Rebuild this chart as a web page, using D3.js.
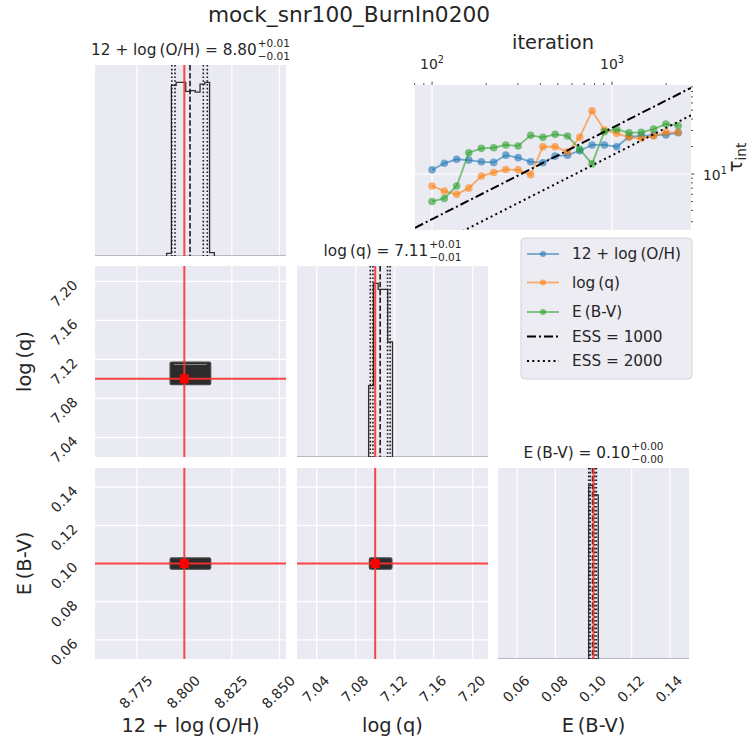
<!DOCTYPE html>
<html>
<head>
<meta charset="utf-8">
<script src="https://cdn.jsdelivr.net/npm/d3@7"></script>
<style>
  body { margin: 0; background: #fff; }
  svg { display: block; font-family: 'DejaVu Sans', sans-serif; }
  text { fill: #262626; }
  .tick-label { font-size: 13.9px; }
  .axis-label { font-size: 19.4px; }
  .hist-title { font-size: 15.3px; }
  .hist-script { font-size: 10.5px; }
  .legend-text { font-size: 15.3px; }
</style>
</head>
<body>
<svg id="corner-svg" width="750" height="744"></svg>
<script>
// ---------- data ----------
const figTitle = 'mock_snr100_BurnIn0200';
const paramLabels = ['12 + log\u2009(O/H)', 'log\u2009(q)', 'E\u2009(B-V)'];
const truths = [8.80, 7.10, 0.10];
const axisRanges = [[8.753, 8.8535], [7.0198, 7.2157], [0.05, 0.15]];
const tickValues = [
  [8.775, 8.800, 8.825, 8.850],
  [7.04, 7.08, 7.12, 7.16, 7.20],
  [0.06, 0.08, 0.10, 0.12, 0.14],
];
const tickFormats = ['.3f', '.2f', '.2f'];

// quantiles at 2.5, 16, 50, 84, 97.5 %
const quantilesOH = [8.7934, 8.7951, 8.8030, 8.8100, 8.8121];
const quantilesLogQ = [7.0950, 7.0977, 7.1051, 7.1127, 7.1153];
const quantilesEBV = [0.0975, 0.0983, 0.0995, 0.1007, 0.1015];

// 40-bin histogram counts over each axis range
const histOH = [0, 0, 0, 0, 0, 0, 0, 0, 0, 0, 0, 0, 0, 0, 0,
  16, 1022, 1040, 1040, 986, 990, 982, 1030, 1040, 20,
  0, 0, 0, 0, 0, 0, 0, 0, 0, 0, 0, 0, 0, 0, 0];
const histLogQ = [0, 0, 0, 0, 0, 0, 0, 0, 0, 0, 0, 0, 0, 0, 0,
  430, 1046, 1010, 1010, 693, 0,
  0, 0, 0, 0, 0, 0, 0, 0, 0, 0, 0, 0, 0, 0, 0, 0, 0, 0, 0];
const histEBV = [0, 0, 0, 0, 0, 0, 0, 0, 0, 0, 0, 0, 0, 0, 0, 0, 0, 0, 0,
  1050, 992,
  0, 0, 0, 0, 0, 0, 0, 0, 0, 0, 0, 0, 0, 0, 0, 0, 0, 0, 0];

// extent of the posterior samples (drawn as the dense blob in 2D panels)
const sampleExtents = [[8.7925, 8.8139], [7.0940, 7.1172], [0.0970, 0.1029]];

// autocorrelation time vs iteration
const iterations = [100, 117, 137, 160, 188, 220, 257, 301, 353, 413, 483,
  566, 662, 775, 907, 1062, 1243, 1455, 1703, 1994, 2334];
const tauOH = [11.1, 13.1, 14.5, 14.2, 13.6, 13.4, 16.1, 15.1, 13.6, 13.3, 15.7,
  16.1, 18.0, 20.8, 20.8, 19.9, 25.6, 26.1, 26.7, 26.8, 28.3];
const tauLogQ = [7.4, 6.5, 6.0, 7.0, 9.5, 10.4, 11.2, 11.1, 9.8, 19.9, 19.9,
  17.5, 25.2, 49.3, 30.3, 27.9, 25.2, 24.6, 26.0, 28.6, 28.6];
const tauEBV = [5.0, 5.4, 7.4, 17.1, 19.1, 19.4, 20.8, 20.3, 26.5, 25.2, 27.2,
  26.1, 18.6, 12.9, 29.1, 30.9, 28.3, 28.6, 31.1, 35.3, 33.8];
const seriesColors = ['#1f77b4', '#ff7f0e', '#2ca02c'];
const essLevels = [1000, 2000];
const essLabels = ['ESS = 1000', 'ESS = 2000'];
const nWalkers = 32;
const tauXDomain = [80.4, 2748];
const tauYDomain = [2.436, 94.4];
const tauMajorX = [100, 1000];
const tauMinorX = [80, 90, 200, 300, 400, 500, 600, 700, 800, 900, 2000];
const tauMajorY = [10];
const tauMinorY = [3, 4, 5, 6, 7, 8, 9, 20, 30, 40, 50, 60, 70, 80, 90];

const quantiles = [quantilesOH, quantilesLogQ, quantilesEBV];
const hists = [histOH, histLogQ, histEBV];
const taus = [tauOH, tauLogQ, tauEBV];

// ---------- layout ----------
const colX = [95, 297, 498];
const rowY = [65, 266, 468];
const panelSize = 191;
const bgColor = '#EAEAF2';
const truthColor = '#ff3030';

const svg = d3.select('#corner-svg');

/**
 * Horizontal scale of a parameter column
 * @param {number} i parameter index
 * @returns {*} linear scale
 */
function xScaleFor(i) {
  return d3.scaleLinear().domain(axisRanges[i]).range([colX[i], colX[i] + panelSize]);
}

/**
 * Vertical scale of a parameter row
 * @param {number} j parameter index
 * @returns {*} linear scale
 */
function yScaleFor(j) {
  return d3.scaleLinear().domain(axisRanges[j]).range([rowY[j] + panelSize, rowY[j]]);
}

/**
 * Adds the background and a clip path for a panel
 */
function addPanel(id, x, y, w, h) {
  svg.append('clipPath').attr('id', id)
    .append('rect').attr('x', x).attr('y', y).attr('width', w).attr('height', h);
  svg.append('rect').attr('x', x).attr('y', y).attr('width', w).attr('height', h)
    .attr('fill', bgColor);
  return svg.append('g').attr('clip-path', `url(#${id})`);
}

/**
 * Adds a title with super/subscript errors above a histogram
 */
function addHistTitle(i) {
  const q = quantiles[i];
  const med = q[2];
  const g = svg.append('g');
  const main = g.append('text').attr('class', 'hist-title')
    .text(`${paramLabels[i]} = ${med.toFixed(2)}`);
  const w = main.node().getComputedTextLength() + 1;
  const sup = g.append('text').attr('class', 'hist-script').attr('x', w).attr('y', -8.5)
    .text(`+${(q[3] - med).toFixed(2)}`);
  const sub = g.append('text').attr('class', 'hist-script').attr('x', w).attr('y', 4.5)
    .text(`\u2212${(med - q[1]).toFixed(2)}`);
  const total = w + Math.max(sup.node().getComputedTextLength(), sub.node().getComputedTextLength());
  g.attr('transform', `translate(${colX[i] + panelSize / 2 - total / 2},${rowY[i] - 10})`);
}

/**
 * Draws a 1D marginal histogram on the diagonal
 */
function drawHist(i) {
  const x = xScaleFor(i);
  const counts = hists[i];
  const y = d3.scaleLinear().domain([0, 1.1 * d3.max(counts)])
    .range([rowY[i] + panelSize, rowY[i]]);
  const g = addPanel(`clip-h${i}`, colX[i], rowY[i], panelSize, panelSize);

  tickValues[i].forEach((t) => {
    g.append('line').attr('x1', x(t)).attr('x2', x(t))
      .attr('y1', rowY[i]).attr('y2', rowY[i] + panelSize)
      .attr('stroke', '#fff').attr('stroke-width', 1.2);
  });

  // empty bins leave only the (half clipped) zero line
  g.append('line').attr('x1', colX[i]).attr('x2', colX[i] + panelSize)
    .attr('y1', y(0)).attr('y2', y(0))
    .attr('stroke', '#b8b8be').attr('stroke-width', 2);

  const edges = d3.range(counts.length + 1)
    .map((k) => axisRanges[i][0] + (k * (axisRanges[i][1] - axisRanges[i][0])) / counts.length);
  const filled = d3.range(counts.length).filter((k) => counts[k] > 0);
  const first = d3.min(filled);
  const last = d3.max(filled);
  const pts = [[edges[first], 0]];
  d3.range(first, last + 1).forEach((k) => {
    pts.push([edges[k], counts[k]], [edges[k + 1], counts[k]]);
  });
  pts.push([edges[last + 1], 0]);
  g.append('path')
    .attr('d', d3.line().x((d) => x(d[0])).y((d) => y(d[1]))(pts))
    .attr('fill', 'none').attr('stroke', '#2f2f2f').attr('stroke-width', 1.3);

  quantiles[i].forEach((q, k) => {
    g.append('line').attr('x1', x(q)).attr('x2', x(q))
      .attr('y1', rowY[i]).attr('y2', rowY[i] + panelSize)
      .attr('stroke', '#1a1a1a').attr('stroke-width', 1.6)
      .attr('stroke-dasharray', k === 2 ? '5.5,2.4' : '1.6,2.2');
  });

  g.append('line').attr('x1', x(truths[i])).attr('x2', x(truths[i]))
    .attr('y1', rowY[i]).attr('y2', rowY[i] + panelSize)
    .attr('stroke', truthColor).attr('stroke-width', 2).attr('opacity', 0.9);

  addHistTitle(i);
}

/**
 * Draws a 2D panel (param i on x, param j on y)
 */
function drawScatter(i, j) {
  const x = xScaleFor(i);
  const y = yScaleFor(j);
  const g = addPanel(`clip-${i}${j}`, colX[i], rowY[j], panelSize, panelSize);

  tickValues[i].forEach((t) => {
    g.append('line').attr('x1', x(t)).attr('x2', x(t))
      .attr('y1', rowY[j]).attr('y2', rowY[j] + panelSize)
      .attr('stroke', '#fff').attr('stroke-width', 1.2);
  });
  tickValues[j].forEach((t) => {
    g.append('line').attr('y1', y(t)).attr('y2', y(t))
      .attr('x1', colX[i]).attr('x2', colX[i] + panelSize)
      .attr('stroke', '#fff').attr('stroke-width', 1.2);
  });

  const bx = x(sampleExtents[i][0]);
  const bw = x(sampleExtents[i][1]) - bx;
  const by = y(sampleExtents[j][1]);
  const bh = y(sampleExtents[j][0]) - by;
  g.append('rect').attr('x', bx).attr('y', by).attr('width', bw).attr('height', bh)
    .attr('rx', 1.5).attr('fill', '#2b2b2b').attr('stroke', '#4a4a4a').attr('stroke-width', 1.2);
  if (bh > 14) {
    g.append('line').attr('x1', bx + 4).attr('x2', bx + bw - 4)
      .attr('y1', by + 2.5).attr('y2', by + 2.5)
      .attr('stroke', '#8a8a8a').attr('stroke-width', 1);
  }

  g.append('line').attr('x1', x(truths[i])).attr('x2', x(truths[i]))
    .attr('y1', rowY[j]).attr('y2', rowY[j] + panelSize)
    .attr('stroke', truthColor).attr('stroke-width', 2).attr('opacity', 0.9);
  g.append('line').attr('y1', y(truths[j])).attr('y2', y(truths[j]))
    .attr('x1', colX[i]).attr('x2', colX[i] + panelSize)
    .attr('stroke', truthColor).attr('stroke-width', 2).attr('opacity', 0.9);
  g.append('rect').attr('x', x(truths[i]) - 4.5).attr('y', y(truths[j]) - 4.5)
    .attr('width', 9).attr('height', 9).attr('fill', '#ff0000');
}

/**
 * Rotated tick labels under a bottom-row panel
 */
function addXTickLabels(i) {
  const x = xScaleFor(i);
  const top = rowY[2] + panelSize + 14;
  tickValues[i].forEach((t) => {
    const label = svg.append('text').attr('class', 'tick-label')
      .attr('text-anchor', 'middle').attr('dominant-baseline', 'central')
      .text(d3.format(tickFormats[i])(t));
    const half = ((label.node().getComputedTextLength() + 13.9) * Math.SQRT1_2) / 2;
    label.attr('transform', `translate(${x(t) - 1},${top + half}) rotate(-45)`);
  });
  svg.append('text').attr('class', 'axis-label').attr('text-anchor', 'middle')
    .attr('x', colX[i] + panelSize / 2).attr('y', 732).text(paramLabels[i]);
}

/**
 * Rotated tick labels left of a first-column panel
 */
function addYTickLabels(j) {
  const y = yScaleFor(j);
  const right = colX[0] - 15;
  tickValues[j].forEach((t) => {
    const label = svg.append('text').attr('class', 'tick-label')
      .attr('text-anchor', 'middle').attr('dominant-baseline', 'central')
      .text(d3.format(tickFormats[j])(t));
    const half = ((label.node().getComputedTextLength() + 13.9) * Math.SQRT1_2) / 2;
    label.attr('transform', `translate(${right - half},${y(t) + 12}) rotate(-45)`);
  });
  svg.append('text').attr('class', 'axis-label').attr('text-anchor', 'middle')
    .attr('transform', `translate(31,${rowY[j] + panelSize / 2}) rotate(-90)`)
    .text(paramLabels[j]);
}

/**
 * Draws the autocorrelation-time panel in the upper right
 */
function drawTauPanel() {
  const left = 415, right = 691, top = 85, bottom = 230;
  const x = d3.scaleLog().domain(tauXDomain).range([left, right]);
  const y = d3.scaleLog().domain(tauYDomain).range([bottom, top]);
  const g = addPanel('clip-tau', left, top, right - left, bottom - top);

  tauMajorX.forEach((t) => {
    g.append('line').attr('x1', x(t)).attr('x2', x(t)).attr('y1', top).attr('y2', bottom)
      .attr('stroke', '#fff').attr('stroke-width', 1.2);
  });
  tauMajorY.forEach((t) => {
    g.append('line').attr('y1', y(t)).attr('y2', y(t)).attr('x1', left).attr('x2', right)
      .attr('stroke', '#fff').attr('stroke-width', 1.2);
  });

  taus.forEach((series, s) => {
    const pts = iterations.map((n, k) => [n, series[k]]);
    g.append('path')
      .attr('d', d3.line().x((d) => x(d[0])).y((d) => y(d[1]))(pts))
      .attr('fill', 'none').attr('stroke', seriesColors[s])
      .attr('stroke-width', 1.8).attr('opacity', 0.6);
    g.append('g').selectAll('circle').data(pts).enter().append('circle')
      .attr('cx', (d) => x(d[0])).attr('cy', (d) => y(d[1])).attr('r', 3.8)
      .attr('fill', seriesColors[s]).attr('opacity', 0.6);
  });

  essLevels.forEach((ess, k) => {
    const ends = tauXDomain.map((n) => [n, (n * nWalkers) / ess]);
    g.append('path')
      .attr('d', d3.line().x((d) => x(d[0])).y((d) => y(d[1]))(ends))
      .attr('fill', 'none').attr('stroke', '#000').attr('stroke-width', 2)
      .attr('stroke-dasharray', k === 0 ? '9,3,2,3' : '2,3.3');
  });

  // ticks on top and right
  const tickG = svg.append('g').attr('stroke', '#262626').attr('stroke-width', 0.8);
  tauMajorX.concat(tauMinorX).forEach((t) => {
    const len = tauMajorX.includes(t) ? 3.5 : 2;
    tickG.append('line').attr('x1', x(t)).attr('x2', x(t)).attr('y1', top).attr('y2', top - len);
  });
  tauMajorY.concat(tauMinorY).forEach((t) => {
    const len = tauMajorY.includes(t) ? 3.5 : 2;
    tickG.append('line').attr('y1', y(t)).attr('y2', y(t)).attr('x1', right).attr('x2', right + len);
  });

  tauMajorX.forEach((t) => {
    const label = svg.append('text').attr('class', 'tick-label').attr('text-anchor', 'middle')
      .attr('x', x(t)).attr('y', 69);
    label.append('tspan').text('10');
    label.append('tspan').attr('dy', -6).style('font-size', '9.7px').text(Math.log10(t));
  });
  tauMajorY.forEach((t) => {
    const label = svg.append('text').attr('class', 'tick-label')
      .attr('x', right + 12).attr('y', y(t) + 6);
    label.append('tspan').text('10');
    label.append('tspan').attr('dy', -6).style('font-size', '9.7px').text(Math.log10(t));
  });

  svg.append('text').attr('class', 'axis-label').attr('text-anchor', 'middle')
    .attr('x', (left + right) / 2).attr('y', 49).text('iteration');
  const yl = svg.append('text').attr('class', 'axis-label').attr('text-anchor', 'middle')
    .attr('transform', `translate(742,${(top + bottom) / 2}) rotate(-90)`);
  yl.append('tspan').text('\u03c4');
  yl.append('tspan').attr('dy', 4).style('font-size', '13.6px').text('int');
}

/**
 * Draws the legend of the autocorrelation panel
 */
function drawLegend() {
  const bx = 521, by = 238;
  svg.append('rect').attr('x', bx).attr('y', by).attr('width', 171).attr('height', 141)
    .attr('rx', 4).attr('fill', '#ececf2').attr('stroke', '#d2d2d8').attr('stroke-width', 1);
  const rowOffsets = [16, 44.5, 74, 98.5, 123];
  const entries = paramLabels.map((label, s) => ({ label, color: seriesColors[s], dash: null }))
    .concat(essLabels.map((label, k) => ({
      label, color: '#000', dash: k === 0 ? '9,3,2,3' : '2,3.3',
    })));
  entries.forEach((e, k) => {
    const cy = by + rowOffsets[k];
    if (e.dash) {
      svg.append('line').attr('x1', 527).attr('x2', 559).attr('y1', cy).attr('y2', cy)
        .attr('stroke', e.color).attr('stroke-width', 2).attr('stroke-dasharray', e.dash);
    } else {
      svg.append('line').attr('x1', 527).attr('x2', 559).attr('y1', cy).attr('y2', cy)
        .attr('stroke', e.color).attr('stroke-width', 1.8).attr('opacity', 0.6);
      svg.append('circle').attr('cx', 543).attr('cy', cy).attr('r', 3)
        .attr('fill', e.color).attr('opacity', 0.6);
    }
    svg.append('text').attr('class', 'legend-text').attr('x', 572)
      .attr('y', cy).attr('dominant-baseline', 'central').text(e.label);
  });
}

// ---------- draw ----------
svg.append('text').attr('x', 349).attr('y', 22).attr('text-anchor', 'middle')
  .style('font-size', '21.7px').text(figTitle);

for (let j = 0; j < 3; j++) {
  for (let i = 0; i <= j; i++) {
    if (i === j) drawHist(i);
    else drawScatter(i, j);
  }
}
[0, 1, 2].forEach(addXTickLabels);
[1, 2].forEach(addYTickLabels);
drawTauPanel();
drawLegend();
</script>
</body>
</html>
